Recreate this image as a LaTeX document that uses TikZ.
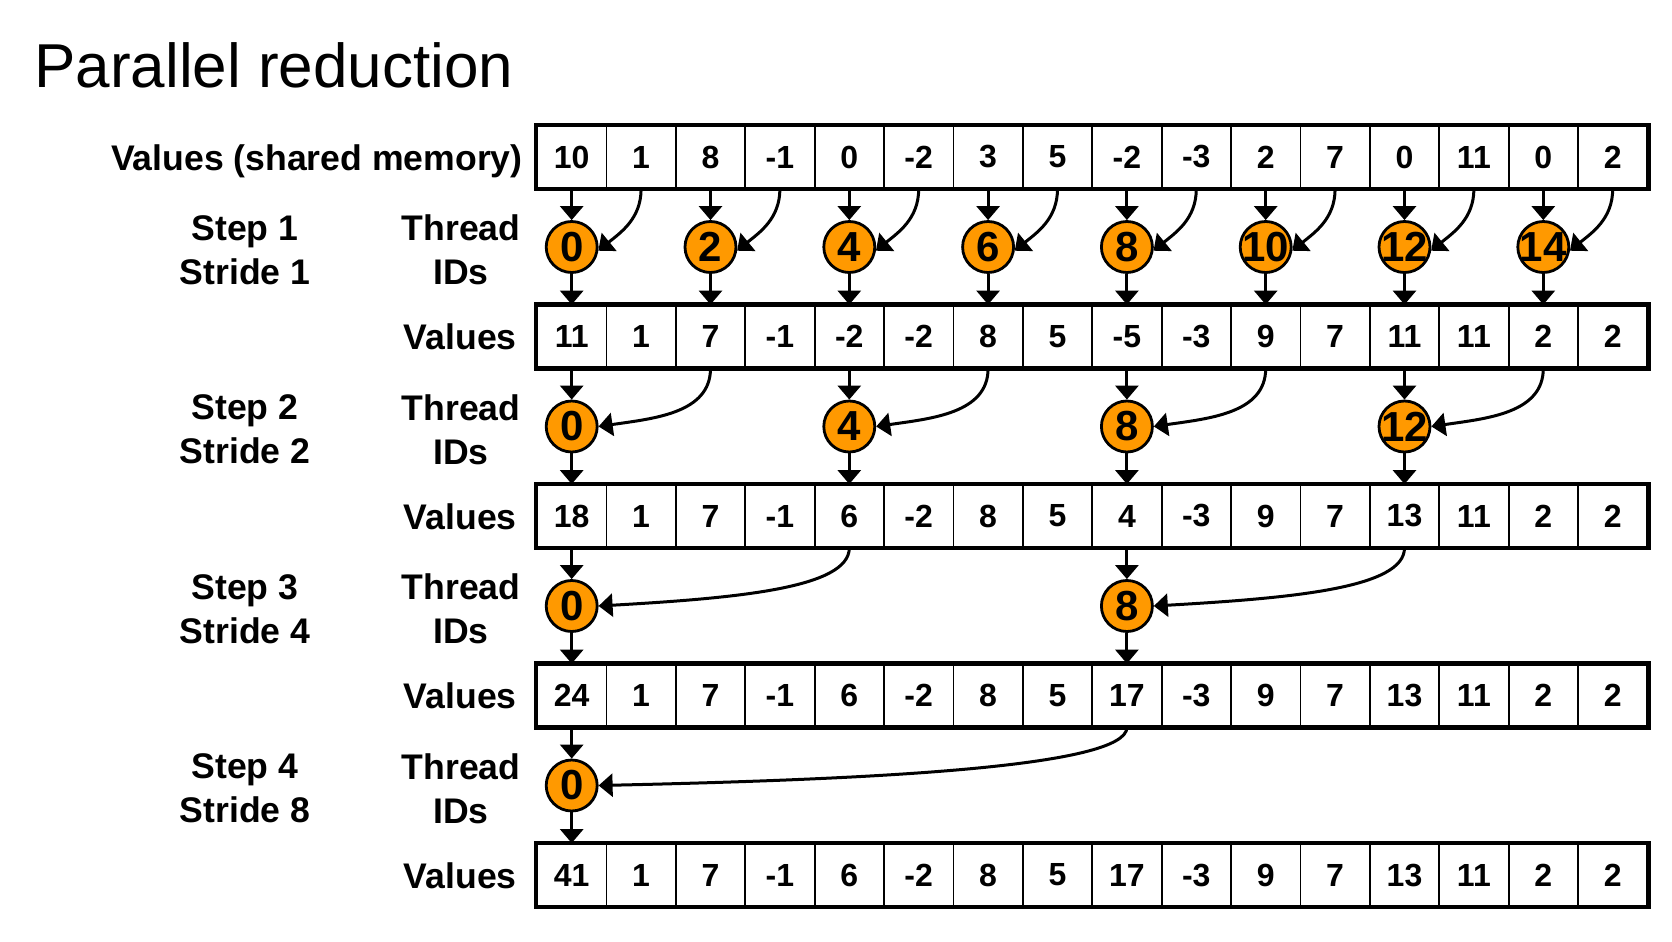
\documentclass[tikz,border=0pt]{standalone}
\usepackage{fontspec}
\setmainfont{Liberation Sans}
\usetikzlibrary{arrows.meta}
\definecolor{idorange}{RGB}{255,153,0}

\begin{document}
\begin{tikzpicture}[x=0.5pt, y=-0.5pt,
	cell/.style = {draw, line width=0.9pt, minimum width=34.7pt, minimum height=31pt, inner sep=0pt,
		font=\fontsize{16}{16}\selectfont\bfseries},
	tid/.style = {draw, circle, fill=idorange, line width=1.4pt, minimum size=25.5pt, inner sep=0pt,
		font=\fontsize{21}{21}\selectfont\bfseries},
	lbl/.style = {align=center, font=\fontsize{17.8}{22}\selectfont\bfseries},
	arr/.style = {line width=1.5pt, -{Triangle[width=11.5pt, length=7pt]}}]
	\useasboundingbox (0,0) rectangle (1672,942);
	\node[anchor=base west, inner sep=0pt, font=\fontsize{31}{31}\selectfont] (title) at (34,87) {Parallel reduction};
	\foreach \r/\vals in {0/{10,1,8,-1,0,-2,3,5,-2,-3,2,7,0,11,0,2},
		1/{11,1,7,-1,-2,-2,8,5,-5,-3,9,7,11,11,2,2},
		2/{18,1,7,-1,6,-2,8,5,4,-3,9,7,13,11,2,2},
		3/{24,1,7,-1,6,-2,8,5,17,-3,9,7,13,11,2,2},
		4/{41,1,7,-1,6,-2,8,5,17,-3,9,7,13,11,2,2}} {
		\foreach \v [count=\j from 0] in \vals
			\node[cell] (v\r-\j) at ({571.7+69.4*\j},{157+179.5*\r}) {\v};
		\draw[line width=2.2pt] (v\r-0.north west) rectangle (v\r-15.south east);
	}
	\node[lbl, anchor=base east, inner sep=0pt] (mem) at (523,170) {Values (shared memory)};
	\foreach \r in {1,...,4}
		\node[lbl, anchor=base east, inner sep=0pt] (val\r) at (517,{170+179.5*\r}) {Values};
	\foreach \k/\st/\ids/\ca/\cb/\cc/\en in {1/1/{0,2,4,6,8,10,12,14}/30/22/-18/-8,
		2/2/{0,4,8,12}/45/55/-8/0,
		3/4/{0,8}/40/140/-8/0,
		4/8/{0}/40/270/-6/0} {
		\pgfmathtruncatemacro\a{\k-1}
		\node[lbl] (step\k) at (245,{250+179.5*\a}) {Step \k\\Stride \st};
		\node[lbl] (ids\k) at (461,{250+179.5*\a}) {Thread\\IDs};
		\foreach \t in \ids {
			\pgfmathtruncatemacro\p{\t+\st}
			\node[tid] (t\k-\t) at ({571.7+69.4*\t},{247+179.5*\a}) {\makebox[0pt]{\t}};
			\draw[arr] (v\a-\t.south) -- (t\k-\t.north);
			\draw[arr] (t\k-\t.south) -- (v\k-\t.north);
			\draw[arr] (v\a-\p.south) .. controls +(0,\ca) and +(\cb,\cc) .. (t\k-\t.\en);
		}
	}
\end{tikzpicture}
\end{document}
